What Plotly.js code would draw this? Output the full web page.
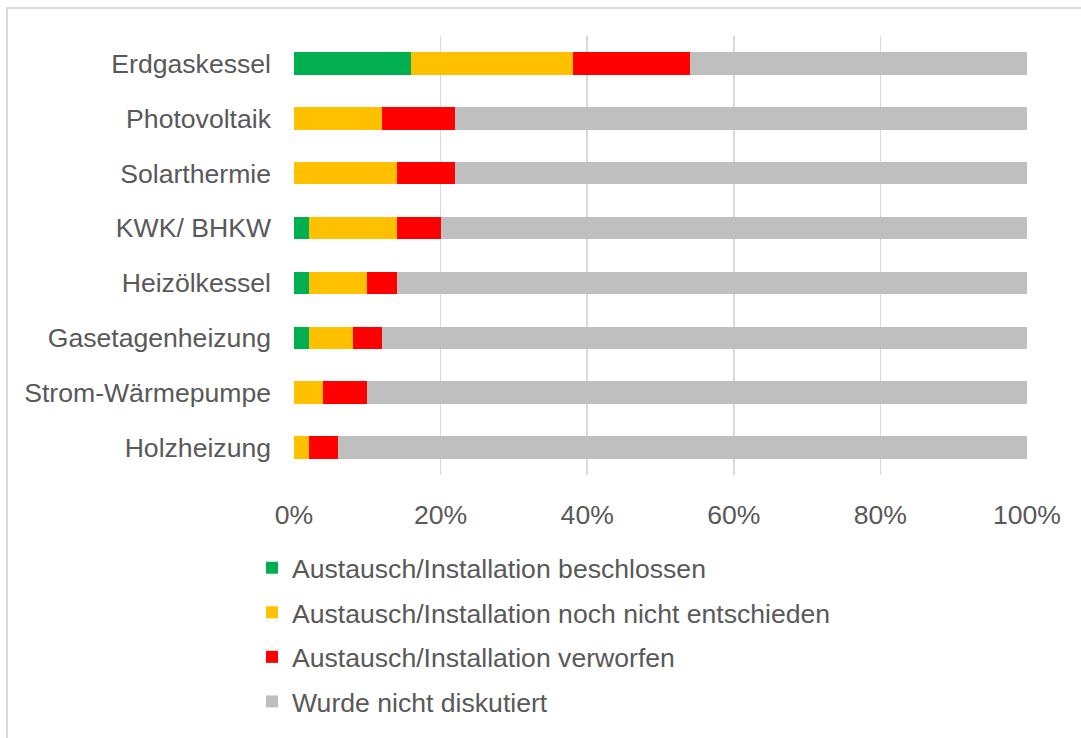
<!DOCTYPE html>
<html>
<head>
<meta charset="utf-8">
<script src="https://cdn.plot.ly/plotly-3.0.1.min.js"></script>
<style>
html,body{margin:0;padding:0;background:#fff;}
#frame{position:absolute;left:6px;top:7px;width:2000px;height:2000px;border-left:2px solid #D9D9D9;border-top:2px solid #D9D9D9;box-sizing:border-box;}
#chart{position:absolute;left:0;top:0;width:1081px;height:738px;}
</style>
</head>
<body>
<div id="frame"></div>
<div id="chart"></div>
<script>
const categories = ["Erdgaskessel","Photovoltaik","Solarthermie","KWK/ BHKW","Heizölkessel","Gasetagenheizung","Strom-Wärmepumpe","Holzheizung"];
const seriesNames = ["Austausch/Installation beschlossen","Austausch/Installation noch nicht entschieden","Austausch/Installation verworfen","Wurde nicht diskutiert"];
const beschlossen = [16,0,0,2,2,2,0,0];
const nichtEntschieden = [22,12,14,12,8,6,4,2];
const verworfen = [16,10,8,6,4,4,6,4];
const nichtDiskutiert = [46,78,78,80,86,88,90,94];
const xTickVals = [0,20,40,60,80,100];
const xTickText = ["0%","20%","40%","60%","80%","100%"];

const colors = ["#00B050","#FFC000","#FF0000","#BFBFBF"];
const values = [beschlossen,nichtEntschieden,verworfen,nichtDiskutiert];

const traces = values.map((v,i)=>({
  type:'bar', orientation:'h', x:v, y:categories, name:seriesNames[i],
  legendgroup:'g'+i,
  marker:{color:colors[i], line:{width:0}},
  hoverinfo:'x+y+name'
}));

const font = {family:'"Liberation Sans", Arial, sans-serif', size:26.6, color:'#595959'};

const layout = {
  width:1081, height:738,
  paper_bgcolor:'rgba(0,0,0,0)', plot_bgcolor:'rgba(0,0,0,0)',
  margin:{l:294, r:54, t:36, b:254},
  barmode:'stack', bargap:0.59,
  font:font,
  showlegend:true,
  legend:{orientation:'v', traceorder:'grouped', tracegroupgap:7,
    x:(252-294)/733, xanchor:'left', y:-0.157, yanchor:'top',
    font:font, bgcolor:'rgba(0,0,0,0)', itemclick:false},
  xaxis:{range:[0,100], tickvals:xTickVals, ticktext:xTickText,
    showgrid:true, gridcolor:'#D9D9D9', gridwidth:1.5, zeroline:false, showline:false,
    ticks:'', ticklabelstandoff:21, tickfont:font, fixedrange:true},
  yaxis:{autorange:'reversed', showgrid:false, zeroline:false, showline:false,
    ticks:'', ticklabelstandoff:22, tickfont:font, fixedrange:true}
};

Plotly.newPlot('chart', traces, layout, {displayModeBar:false, staticPlot:true});
</script>
</body>
</html>
